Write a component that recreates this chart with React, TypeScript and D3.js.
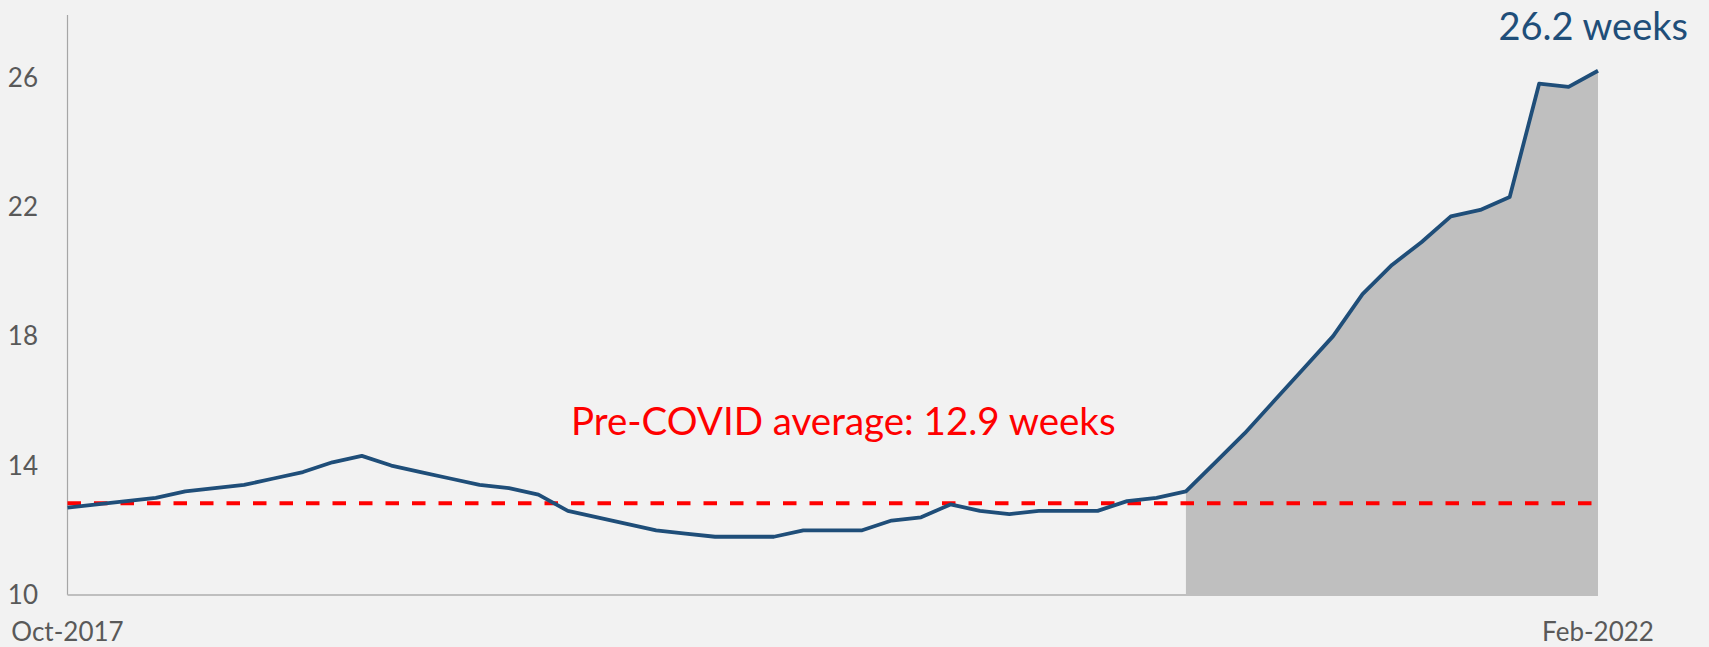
import React, { useEffect, useRef } from 'react';
import * as d3 from 'd3';

// monthly points, Oct-2017 .. Feb-2022
const months = d3.timeMonth.range(new Date(2017, 9, 1), new Date(2022, 2, 1)).map(d3.timeFormat('%b-%Y'));

const weeks = [
    12.7, 12.8, 12.9, 13.0, 13.2, 13.3, 13.4, 13.6, 13.8, 14.1, 14.3, 14.0,
    13.8, 13.6, 13.4, 13.3, 13.1, 12.6, 12.4, 12.2, 12.0, 11.9, 11.8, 11.8,
    11.8, 12.0, 12.0, 12.0, 12.3, 12.4, 12.8, 12.6, 12.5, 12.6, 12.6, 12.6,
    12.9, 13.0, 13.2, 14.1, 15.0, 16.0, 17.0, 18.0, 19.3, 20.2, 20.9, 21.7,
    21.9, 22.3, 25.8, 25.7, 26.2,
];

const yTicks = [10, 14, 18, 22, 26];
const xLabels = ['Oct-2017', 'Feb-2022'];
const shadeFrom = 'Dec-2020';
const preCovidAvg = 12.9;
const avgLabel = 'Pre-COVID average: 12.9 weeks';
const lastLabel = '26.2 weeks';

const W = 1709;
const H = 647;
const FONT = 'Lato, "Open Sans", sans-serif';

function App() {
    const ref = useRef<SVGSVGElement | null>(null);

    useEffect(() => {
        const svg = d3.select(ref.current);
        svg.selectAll('*').remove();

        const x = d3.scalePoint<string>().domain(months).range([67.5, 1598]);
        const y = d3.scaleLinear().domain([10, 28]).range([595, 12.5]);

        const data = months.map((m, i) => ({ m, v: weeks[i] }));

        svg.append('rect').attr('width', W).attr('height', H).attr('fill', '#f2f2f2');

        // grey shaded period
        const shaded = data.slice(months.indexOf(shadeFrom));
        const area = d3.area<{ m: string; v: number }>()
            .x(d => x(d.m)!)
            .y0(y(10))
            .y1(d => y(d.v));
        svg.append('path').datum(shaded).attr('d', area).attr('fill', '#bfbfbf');

        // axes
        svg.append('line')
            .attr('x1', x(months[0])!).attr('x2', x(months[0])!)
            .attr('y1', 15).attr('y2', y(10))
            .attr('stroke', '#a6a6a6').attr('stroke-width', 1.2);
        svg.append('line')
            .attr('x1', x(months[0])!).attr('x2', x(months[months.length - 1])!)
            .attr('y1', y(10)).attr('y2', y(10))
            .attr('stroke', '#bfbfbf').attr('stroke-width', 2);

        svg.append('g').selectAll('text').data(yTicks).enter()
            .append('text')
            .attr('x', 38)
            .attr('y', d => y(d))
            .attr('dy', '0.36em')
            .attr('text-anchor', 'end')
            .attr('font-family', FONT)
            .attr('font-size', 26)
            .attr('fill', '#595959')
            .text(d => d);

        svg.append('g').selectAll('text').data(xLabels).enter()
            .append('text')
            .attr('x', d => x(d)!)
            .attr('y', 641)
            .attr('text-anchor', 'middle')
            .attr('font-family', FONT)
            .attr('font-size', 26)
            .attr('fill', '#595959')
            .text(d => d);

        // average line
        svg.append('line')
            .attr('x1', x(months[0])!).attr('x2', 1592)
            .attr('y1', y(preCovidAvg) + 2).attr('y2', y(preCovidAvg) + 2)
            .attr('stroke', '#ff0000').attr('stroke-width', 4)
            .attr('stroke-dasharray', '13.5,13');

        const line = d3.line<{ m: string; v: number }>()
            .x(d => x(d.m)!)
            .y(d => y(d.v));
        svg.append('path').datum(data).attr('d', line)
            .attr('fill', 'none').attr('stroke', '#1f4e79')
            .attr('stroke-width', 3.8).attr('stroke-linejoin', 'round');

        svg.append('text')
            .attr('x', 571).attr('y', 435)
            .attr('font-family', FONT).attr('font-size', 38.5)
            .attr('fill', '#ff0000')
            .text(avgLabel);

        svg.append('text')
            .attr('x', 1688).attr('y', 40)
            .attr('text-anchor', 'end')
            .attr('font-family', FONT).attr('font-size', 38)
            .attr('fill', '#1f4e79')
            .text(lastLabel);
    }, []);

    return (
        <svg
            ref={ref}
            width={W}
            height={H}
            style={{ position: 'absolute', left: 0, top: 0, display: 'block' }}
        />
    );
}

export default App;
